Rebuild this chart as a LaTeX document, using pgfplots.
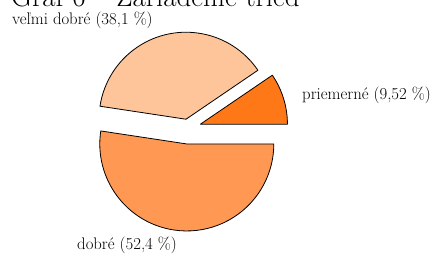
\documentclass[border=0pt]{standalone}
\usepackage{pgfplots}
\usepackage{pgfplotstable}
\pgfplotsset{compat=1.18}
\definecolor{cVD}{RGB}{254,196,154}
\definecolor{cP}{RGB}{255,120,24}
\definecolor{cD}{RGB}{255,152,82}

% slices in counter-clockwise order from 0 deg: priemerne, velmi dobre, dobre
\pgfplotstableread{
value explode
9.52 13
38.1 9
52.4 16
}\piedata

\begin{document}
\begin{tikzpicture}
\def\cx{188}\def\cy{125}\def\R{87}
\pgfplotstablegetelem{0}{value}\of\piedata \pgfmathsetmacro\vA{\pgfplotsretval}
\pgfplotstablegetelem{1}{value}\of\piedata \pgfmathsetmacro\vB{\pgfplotsretval}
\pgfplotstablegetelem{2}{value}\of\piedata \pgfmathsetmacro\vC{\pgfplotsretval}
\pgfplotstablegetelem{0}{explode}\of\piedata \pgfmathsetmacro\eA{\pgfplotsretval}
\pgfplotstablegetelem{1}{explode}\of\piedata \pgfmathsetmacro\eB{\pgfplotsretval}
\pgfplotstablegetelem{2}{explode}\of\piedata \pgfmathsetmacro\eC{\pgfplotsretval}
\pgfmathsetmacro\tot{\vA+\vB+\vC}
\pgfmathsetmacro\aA{0}
\pgfmathsetmacro\bA{360*\vA/\tot}
\pgfmathsetmacro\bB{\bA+360*\vB/\tot}
\pgfmathsetmacro\bC{360}
\pgfmathsetmacro\mA{(\aA+\bA)/2}
\pgfmathsetmacro\mB{(\bA+\bB)/2}
\pgfmathsetmacro\mC{(\bB+\bC)/2}
\pgfmathsetmacro\pAx{\cx+\eA*cos(\mA)}\pgfmathsetmacro\pAy{\cy+\eA*sin(\mA)}
\pgfmathsetmacro\pBx{\cx+\eB*cos(\mB)}\pgfmathsetmacro\pBy{\cy+\eB*sin(\mB)}
\pgfmathsetmacro\pCx{\cx+\eC*cos(\mC)}\pgfmathsetmacro\pCy{\cy+\eC*sin(\mC)}
\begin{axis}[
  x=1bp, y=1bp, xmin=0, xmax=433, ymin=0, ymax=253,
  hide axis, clip=false, scale only axis,
]
\coordinate (BL) at (axis cs:0,0);
\coordinate (TR) at (axis cs:433,253);
\filldraw[fill=cP, draw=black, line width=0.8bp, line join=round]
  (axis cs:\pAx,\pAy) -- ++(\aA:\R bp) arc[start angle=\aA, end angle=\bA, radius=\R bp] -- cycle;
\filldraw[fill=cVD, draw=black, line width=0.8bp, line join=round]
  (axis cs:\pBx,\pBy) -- ++(\bA:\R bp) arc[start angle=\bA, end angle=\bB, radius=\R bp] -- cycle;
\filldraw[fill=cD, draw=black, line width=0.8bp, line join=round]
  (axis cs:\pCx,\pCy) -- ++(\bB:\R bp) arc[start angle=\bB, end angle=\bC, radius=\R bp] -- cycle;
\node[anchor=base west, inner sep=0pt, font=\fontsize{29}{34}\selectfont] at (axis cs:11,246.5) {Graf 6 -- Zariadenie tried};
\node[anchor=base west, inner sep=0pt, font=\fontsize{16.8}{20}\selectfont] at (axis cs:12,229) {veľmi dobré (38,1~\%)};
\node[anchor=base west, inner sep=0pt, font=\fontsize{16.8}{20}\selectfont] at (axis cs:302,154) {priemerné (9,52~\%)};
\node[anchor=base west, inner sep=0pt, font=\fontsize{16.8}{20}\selectfont] at (axis cs:77,4) {dobré (52,4~\%)};
\end{axis}
\pgfresetboundingbox
\useasboundingbox (BL) rectangle (TR);
\end{tikzpicture}
\end{document}
